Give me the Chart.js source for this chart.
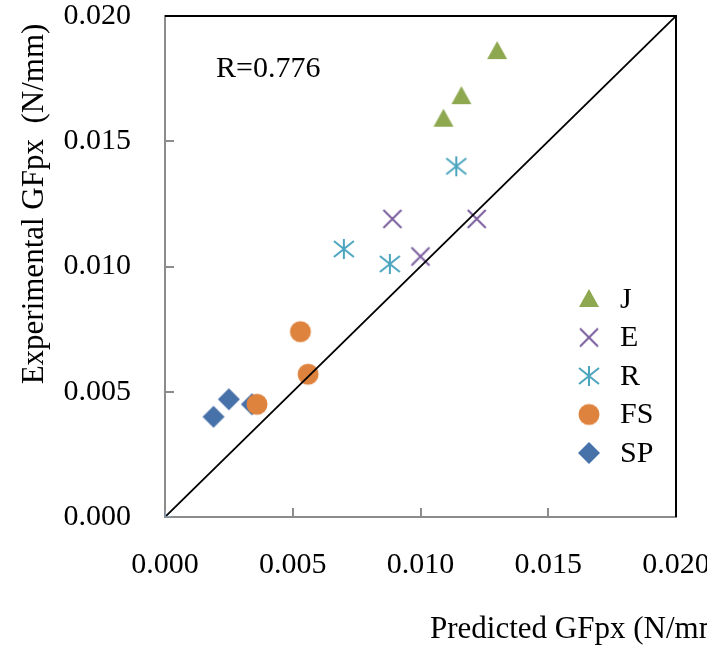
<!DOCTYPE html>
<html><head><meta charset="utf-8">
<script src="https://cdn.jsdelivr.net/npm/chart.js@4/dist/chart.umd.min.js"></script>
<style>html,body{margin:0;padding:0;background:#fff;overflow:hidden}canvas{display:block}</style>
</head><body>
<canvas id="c" width="707" height="652"></canvas>
<script>
// ---- data ----
const seriesNames = ["J", "E", "R", "FS", "SP"];
const J_pred  = [0.0109, 0.0116, 0.0130];
const J_exp   = [0.0159, 0.0168, 0.0186];
const E_pred  = [0.0089, 0.0100, 0.0122];
const E_exp   = [0.0119, 0.0104, 0.0119];
const R_pred  = [0.0070, 0.0088, 0.0114];
const R_exp   = [0.0107, 0.0101, 0.0140];
const FS_pred = [0.0036, 0.0053, 0.0056];
const FS_exp  = [0.0045, 0.0074, 0.0057];
const SP_pred = [0.0019, 0.0025, 0.0034];
const SP_exp  = [0.0040, 0.0047, 0.0045];
const lineX = [0, 0.020];
const lineY = [0, 0.020];
const tickValues = [0, 0.005, 0.010, 0.015, 0.020];
const rText = "R=0.776";
const xTitle = "Predicted GFpx (N/mm)";
const yTitle = "Experimental GFpx  (N/mm)";

const colors = {J:"#8DA84F", E:"#7A5D9C", R:"#4BA5BE", FS:"#DE833D", SP:"#4671A9"};
const FONT = "'Liberation Serif','Times New Roman',serif";

function makeMarker(kind, color){
  const s = 26, c = document.createElement('canvas');
  c.width = s; c.height = s;
  const g = c.getContext('2d'); const m = s/2;
  g.fillStyle = color; g.strokeStyle = color; g.lineWidth = 2;
  g.beginPath();
  if(kind==='J'){ g.moveTo(m, m-10); g.lineTo(m+10, m+8); g.lineTo(m-10, m+8); g.closePath(); g.fill(); }
  else if(kind==='E'){ g.moveTo(m-9,m-9); g.lineTo(m+9,m+9); g.moveTo(m+9,m-9); g.lineTo(m-9,m+9); g.stroke(); }
  else if(kind==='R'){ g.moveTo(m,m-10); g.lineTo(m,m+10); g.moveTo(m-10,m-8); g.lineTo(m+10,m+8); g.moveTo(m+10,m-8); g.lineTo(m-10,m+8); g.stroke(); }
  else if(kind==='FS'){ g.arc(m,m,10.5,0,Math.PI*2); g.fill(); }
  else if(kind==='SP'){ g.moveTo(m,m-11); g.lineTo(m+11,m); g.lineTo(m,m+11); g.lineTo(m-11,m); g.closePath(); g.fill(); }
  return c;
}
const markers = {};
seriesNames.forEach(n => markers[n] = makeMarker(n, colors[n]));
const originCross = (function(){
  const c = document.createElement('canvas'); c.width = 14; c.height = 14;
  const g = c.getContext('2d'); g.strokeStyle = '#8FA9D6'; g.lineWidth = 1.5;
  g.beginPath(); g.moveTo(7,1); g.lineTo(7,13); g.moveTo(1,7); g.lineTo(13,7); g.stroke();
  return c;
})();

function pts(xs, ys){ return xs.map((x,i)=>({x:x, y:ys[i]})); }
const dataMap = {J:[J_pred,J_exp], E:[E_pred,E_exp], R:[R_pred,R_exp], FS:[FS_pred,FS_exp], SP:[SP_pred,SP_exp]};

const datasets = [{
  type:'line', label:'1:1', data: pts(lineX,lineY), borderColor:'#000', borderWidth:1.8,
  pointStyle:[originCross, false], pointRadius:[7,0], showLine:true, fill:false
}];
seriesNames.forEach(n => datasets.push({
  type:'scatter', label:n, data: pts(dataMap[n][0], dataMap[n][1]),
  pointStyle: markers[n], pointRadius: 11, backgroundColor: colors[n], borderColor: colors[n]
}));

const decor = {
  id:'decor',
  afterDraw(chart){
    const ctx = chart.ctx, a = chart.chartArea, xs = chart.scales.x, ys = chart.scales.y;
    ctx.save();
    // inward tick marks
    ctx.strokeStyle = '#8c8c8c'; ctx.lineWidth = 2;
    ctx.beginPath();
    tickValues.slice(1,-1).forEach(v => {
      const px = Math.round(xs.getPixelForValue(v));
      ctx.moveTo(px, a.bottom); ctx.lineTo(px, a.bottom-9);
      const py = Math.round(ys.getPixelForValue(v));
      ctx.moveTo(a.left, py); ctx.lineTo(a.left+9, py);
    });
    ctx.stroke();
    // top & right borders
    ctx.strokeStyle = '#000'; ctx.lineWidth = 2;
    ctx.beginPath();
    ctx.moveTo(a.left, a.top); ctx.lineTo(a.right, a.top); ctx.lineTo(a.right, a.bottom);
    ctx.stroke();
    // texts
    ctx.fillStyle = '#000';
    ctx.font = '30px ' + FONT;
    ctx.textBaseline = 'alphabetic'; ctx.textAlign = 'left';
    ctx.fillText(rText, 216, 77);
    ctx.font = '31px ' + FONT;
    ctx.fillText(xTitle, 430, 638);
    ctx.save();
    ctx.translate(43, 204); ctx.rotate(-Math.PI/2);
    ctx.textAlign = 'center';
    ctx.fillText(yTitle, 0, 0);
    ctx.restore();
    // legend
    ctx.font = '30px ' + FONT;
    ctx.textBaseline = 'middle';
    seriesNames.forEach((n,i) => {
      const y = 299 + i*38.5;
      const m = markers[n];
      ctx.drawImage(m, 589 - m.width/2, y - m.height/2);
      ctx.fillText(n, 620, y+1);
    });
    ctx.restore();
  }
};

function zeroPad(s){ s.paddingTop = 0; s.paddingBottom = 0; s.paddingLeft = 0; s.paddingRight = 0; }

new Chart(document.getElementById('c'), {
  data: { datasets },
  options: {
    responsive:false, animation:false, devicePixelRatio:1,
    layout:{ padding:{ left:0, top:16, right:31, bottom:0 } },
    plugins:{ legend:{display:false}, tooltip:{enabled:false} },
    scales:{
      x:{ type:'linear', min:0, max:0.020,
        afterFit(s){ s.height = 135; zeroPad(s); },
        border:{ color:'#8c8c8c', width:2 },
        grid:{ display:true, drawOnChartArea:false, drawTicks:false },
        ticks:{ stepSize:0.005, padding:30, color:'#000', font:{family:FONT, size:30},
          callback:(v)=>Number(v).toFixed(3), maxRotation:0 }
      },
      y:{ type:'linear', min:0, max:0.020,
        afterFit(s){ s.width = 165; zeroPad(s); },
        border:{ color:'#8c8c8c', width:2 },
        grid:{ display:true, drawOnChartArea:false, drawTicks:false },
        ticks:{ stepSize:0.005, padding:34, color:'#000', font:{family:FONT, size:30},
          callback:(v)=>Number(v).toFixed(3) }
      }
    }
  },
  plugins:[decor]
});
</script>
</body></html>
